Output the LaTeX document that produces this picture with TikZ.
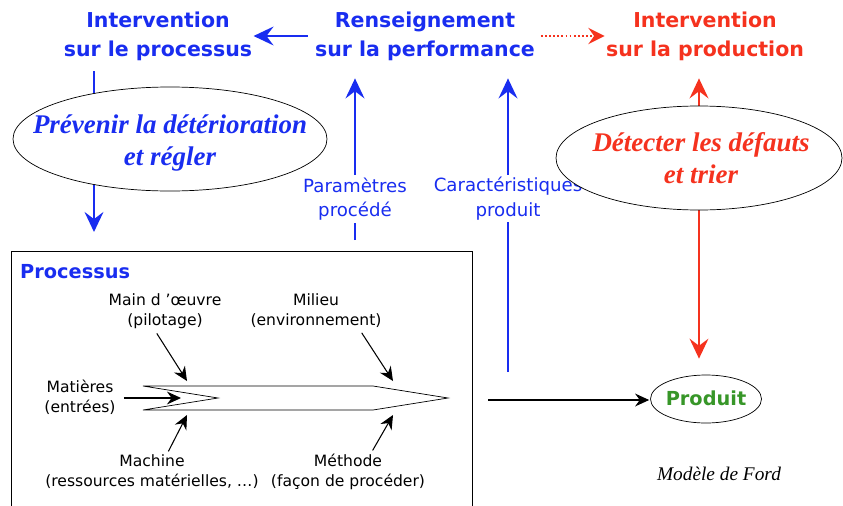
\documentclass[tikz,border=0pt]{standalone}
\usepackage{fontspec}
\setmainfont{Liberation Serif}
\setsansfont{DejaVu Sans}
\usepackage{xcolor}
\usetikzlibrary{arrows.meta,shapes.geometric}
\definecolor{procblue}{RGB}{25,45,240}
\definecolor{prodred}{RGB}{245,50,30}
\definecolor{prodgreen}{RGB}{55,150,40}

\begin{document}
\begin{tikzpicture}[x=0.03cm,y=-0.03cm,
    titre/.style={font=\sffamily\bfseries\fontsize{17.5}{25}\selectfont,align=center,inner sep=1pt},
    consigne/.style={font=\rmfamily\bfseries\itshape\fontsize{23}{27}\selectfont,align=center,inner sep=0pt},
    bulle/.style={draw=black,fill=white,line width=0.6pt},
    mesure/.style={fill=white,text=procblue,font=\sffamily\fontsize{15.5}{21}\selectfont,
      align=center,inner sep=2pt},
    facteur/.style={font=\sffamily\fontsize{13.3}{17}\selectfont,align=center,inner sep=1pt},
    bleu/.style={draw=procblue,line width=2.4pt,-{Stealth[length=17pt,width=16pt,inset=6pt]}},
    rouge/.style={draw=prodred,line width=2.4pt,{Stealth[length=17pt,width=16pt,inset=6pt]}-{Stealth[length=17pt,width=16pt,inset=6pt]}},
    noir/.style={draw=black,line width=0.9pt,-{Stealth[length=12pt,width=11pt,inset=4pt]}}]
  \useasboundingbox (0,0) rectangle (843,505);

  % haut : les trois boites de decision
  \node[titre,text=procblue] (intproc) at (158,36) {Intervention\\sur le processus};
  \node[titre,text=procblue] (renseig) at (425,36) {Renseignement\\sur la performance};
  \node[titre,text=prodred] (intprod) at (705,36) {Intervention\\sur la production};
  \draw[bleu,shorten <=5pt] (renseig.west) -- (intproc.east);
  \draw[draw=prodred,line width=1.5pt,dotted,-{Stealth[length=14pt,width=14pt,inset=5pt]},
    shorten <=4pt] (renseig.east) -- (intprod.west);

  % boucle sur le processus
  \coordinate (procin) at (94,232);
  \draw[bleu,shorten <=8pt] (intproc.south -| procin) -- (procin);
  \draw[bulle] (170,139) ellipse [x radius=157,y radius=52];
  \node[consigne,text=procblue] (prevenir) at (170,143) {Prévenir la détérioration\\et régler};

  % mesures
  \coordinate (parambas) at (355,240);
  \coordinate (caractbas) at (508,372);
  \draw[bleu,shorten >=14pt] (parambas) -- node[mesure,pos=0.23] (param) {Paramètres\\procédé}
    (renseig.south -| parambas);
  \draw[bleu,shorten >=14pt] (caractbas) -- node[mesure,pos=0.56] (caract) {Caractéristiques\\produit}
    (renseig.south -| caractbas);

  % boucle sur la production
  \draw[bulle] (706,399) ellipse [x radius=55.5,y radius=24];
  \node[text=prodgreen,font=\sffamily\bfseries\fontsize{16.5}{18}\selectfont,inner sep=0pt]
    (produit) at (706,398) {Produit};
  \coordinate (tri) at (699,158);
  \draw[rouge,shorten <=14pt,shorten >=27pt] (tri |- intprod.south) -- (tri |- produit.north);
  \draw[bulle] (tri) ellipse [x radius=143,y radius=52];
  \node[consigne,text=prodred] (detecter) at (701,158) {Détecter les défauts\\et trier};

  % processus
  \draw[line width=0.6pt] (11,506) |- (472,251) -- (472,506);
  \node[anchor=west,text=procblue,font=\sffamily\bfseries\fontsize{16.5}{18}\selectfont,
    inner sep=0pt] (processus) at (20,272) {Processus};
  \coordinate (queuehaut) at (143,386);
  \coordinate (queuebas) at (143,410);
  \coordinate (epaulehaut) at (373,386);
  \coordinate (epaulebas) at (373,410);
  \coordinate (pointe) at (448,398);
  \coordinate (encoche) at (218,398);
  \draw[line width=0.6pt] (queuehaut) -- (epaulehaut) -- (pointe) -- (epaulebas)
    -- (queuebas) -- (encoche) -- cycle;

  \node[facteur] (matieres) at (80,397) {Matières\\(entrées)};
  \node[facteur] (mainoeuvre) at (165,311) {Main d 'œuvre\\(pilotage)};
  \node[facteur] (milieu) at (316,311) {Milieu\\(environnement)};
  \node[facteur] (machine) at (152,472) {Machine\\(ressources matérielles, …)};
  \node[facteur] (methode) at (348,472) {Méthode\\(façon de procéder)};
  \coordinate (matin) at (181,398);
  \coordinate (moin) at (187,381);
  \coordinate (milin) at (393,381);
  \coordinate (machin) at (187,415);
  \coordinate (methin) at (393,415);
  \draw[noir,shorten <=6pt] (matieres.east |- matin) -- (matin);
  \draw[noir] ([xshift=-7pt,yshift=-3pt]mainoeuvre.south) -- (moin);
  \draw[noir] ([xshift=39pt,yshift=-3pt]milieu.south) -- (milin);
  \draw[noir] ([xshift=14pt,yshift=2pt]machine.north) -- (machin);
  \draw[noir] ([xshift=21pt,yshift=2pt]methode.north) -- (methin);

  % sortie
  \coordinate (sortie) at (488,400);
  \draw[noir,shorten >=14pt] (sortie) -- (produit.west |- sortie);
  \node[font=\rmfamily\itshape\fontsize{16.5}{18}\selectfont] (modele) at (719,474) {Modèle de Ford};
\end{tikzpicture}
\end{document}
